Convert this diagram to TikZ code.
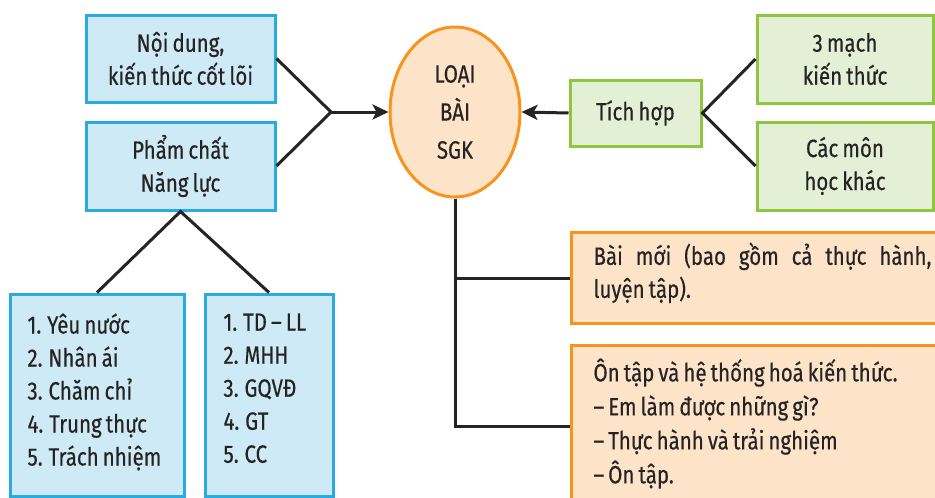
\documentclass[tikz,border=0pt]{standalone}
\usepackage{fontspec}
\setmainfont{Fira Sans}[FakeStretch=0.82, WordSpace=0.75, FakeBold=0.4]
\usetikzlibrary{shapes.geometric,arrows.meta}
\definecolor{txt}{HTML}{262324}
\definecolor{bluefill}{HTML}{CDEAF6}
\definecolor{blueline}{HTML}{29ABE2}
\definecolor{greenfill}{HTML}{E3F0D6}
\definecolor{greenline}{HTML}{8DC63F}
\definecolor{orfill}{HTML}{FDE4C8}
\definecolor{orline}{HTML}{F7941D}
\tikzset{
  base/.style={line width=3pt, text=txt, font=\fontsize{25}{33}\selectfont, inner sep=0pt},
  bluebox/.style={base, draw=blueline, fill=bluefill, align=center},
  greenbox/.style={base, draw=greenline, fill=greenfill, align=center},
  orbox/.style={base, draw=orline, fill=orfill, anchor=north west},
  listbox/.style={base, draw=blueline, fill=bluefill, align=left},
  plaintext/.style={base, anchor=north west, align=left},
  conn/.style={line width=3pt, draw=txt},
  arr/.style={conn, -{Stealth[length=16pt,width=15pt,inset=4pt]}}
}
\begin{document}
\begin{tikzpicture}[x=1pt,y=-1pt]
\useasboundingbox[fill=white] (0,0) rectangle (935,498);
% left blue boxes
\node[bluebox, minimum width=189pt, minimum height=87pt] (noidung) at (180.5,58.5) {Nội dung,\\kiến thức cốt lõi};
\node[bluebox, minimum width=189pt, minimum height=88pt] (phamchat) at (180.5,166) {Phẩm chất\\Năng lực};
% ellipse
\node[base, ellipse, draw=orline, fill=orfill, minimum width=130pt, minimum height=170pt, align=center, font=\fontsize{25}{38}\selectfont] (loai) at (455,112) {LOẠI\\BÀI\\SGK};
% green boxes
\node[greenbox, minimum width=131pt, minimum height=66pt] (tichhop) at (635.5,113) {Tích hợp};
\node[greenbox, minimum width=176pt, minimum height=88pt] (mach) at (845,59) {3 mạch\\kiến thức};
\node[greenbox, minimum width=176pt, minimum height=88pt] (cacmon) at (845,166) {Các môn\\học khác};
% orange boxes
\node[orbox, minimum width=390pt, minimum height=91pt] (baimoi) at (570,231) {};
\node[plaintext, text width=338pt, align=justify] (baimoitext) at (592,241) {Bài mới (bao gồm cả thực hành,\linebreak luyện tập).};
\node[orbox, minimum width=390pt, minimum height=180pt] (ontap) at (570,344) {};
\node[plaintext, font=\fontsize{25}{34}\selectfont] (ontaptext) at (592,357) {Ôn tập và hệ thống hoá kiến thức.\\– Em làm được những gì?\\– Thực hành và trải nghiệm\\– Ôn tập.};
\coordinate (ontapin) at (570,426);
% list boxes
\node[listbox, minimum width=174pt, minimum height=202pt] (list1) at (97,395) {};
\node[plaintext] (list1text) at (26,312) {1. Yêu nước\\2. Nhân ái\\3. Chăm chỉ\\4. Trung thực\\5. Trách nhiệm};
\node[listbox, minimum width=128pt, minimum height=202pt] (list2) at (269,395) {};
\node[plaintext] (list2text) at (222,312) {1. TD – LL\\2. MHH\\3. GQVĐ\\4. GT\\5. CC};
% connectors
\coordinate (j1) at (331,112);
\draw[conn] (noidung.east) -- (j1) -- (phamchat.east);
\draw[arr] (j1) -- (loai.west);
\draw[arr] (tichhop.west) -- (loai.east);
\draw[conn] (mach.west) -- (tichhop.east) -- (cacmon.west);
\draw[conn] (list1.north) -- (phamchat.south) -- (list2.north);
\draw[conn] (loai.south) |- (baimoi.west);
\draw[conn] (loai.south) |- (ontapin);
\end{tikzpicture}
\end{document}
